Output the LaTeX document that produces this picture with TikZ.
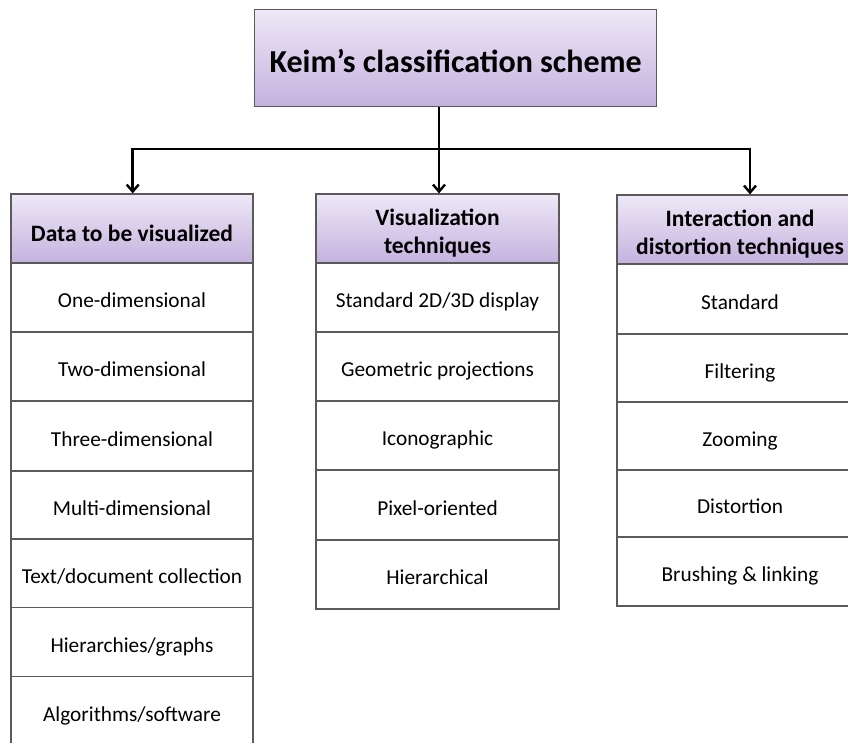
\documentclass[tikz,border=0pt]{standalone}
\usepackage{fontspec}
\setmainfont{Carlito}
\usetikzlibrary{arrows.meta}
\definecolor{boxline}{HTML}{5A5A5A}
\definecolor{gradtop}{HTML}{EEE8F7}
\definecolor{gradbot}{HTML}{C4B2DE}
\tikzset{
  headbox/.style={draw=boxline, line width=1.2pt, top color=gradtop, bottom color=gradbot, inner sep=0pt},
  headtext/.style={align=center, inner sep=0pt, yshift=-5pt, font=\fontsize{23.5}{28}\selectfont\bfseries},
  cellbox/.style={draw=boxline, line width=1.2pt, fill=white, inner sep=0pt, align=center, text height=23pt, text depth=3pt, font=\fontsize{21.3}{24}\selectfont},
  titlebox/.style={draw=boxline, line width=1.2pt, top color=gradtop, bottom color=gradbot, inner sep=0pt, text height=32pt, text depth=3pt, font=\fontsize{32}{36}\selectfont\bfseries},
  link/.style={line width=2.6pt, black},
  arr/.style={line width=2.6pt, black, -{Straight Barb[length=7pt,width=12pt,line width=2.4pt]}}
}
\begin{document}
\begin{tikzpicture}[x=1pt,y=-1pt]
\useasboundingbox (0,0) rectangle (848,743);
\clip (0,0) rectangle (848,743);
% top
\node[titlebox, minimum width=402pt, minimum height=96.5pt] (top) at (455.7,58) {Keim’s classification scheme};
% left column
\node[headbox, minimum width=242pt, minimum height=69pt, label={[headtext]center:Data to be visualized}] (h1) at (132,228.5) {};
\node[cellbox, minimum width=242pt, minimum height=69pt] (l1) at (132,297.5) {One-dimensional};
\node[cellbox, minimum width=242pt, minimum height=69pt] (l2) at (132,366.5) {Two-dimensional};
\node[cellbox, minimum width=242pt, minimum height=70pt] (l3) at (132,436) {Three-dimensional};
\node[cellbox, minimum width=242pt, minimum height=68pt] (l4) at (132,505) {Multi-dimensional};
\node[cellbox, minimum width=242pt, minimum height=68.5pt] (l5) at (132,573.25) {Text/document collection};
\node[cellbox, minimum width=242pt, minimum height=69pt] (l6) at (132,642) {Hierarchies/graphs};
\node[cellbox, minimum width=242pt, minimum height=69pt] (l7) at (132,711) {Algorithms/software};
% middle column
\node[headbox, minimum width=243pt, minimum height=69pt, label={[headtext]center:Visualization\\techniques}] (h2) at (437.5,228.5) {};
\node[cellbox, minimum width=243pt, minimum height=69pt] (m1) at (437.5,297.5) {Standard 2D/3D display};
\node[cellbox, minimum width=243pt, minimum height=69pt] (m2) at (437.5,366.5) {Geometric projections};
\node[cellbox, minimum width=243pt, minimum height=69pt] (m3) at (437.5,435.5) {Iconographic};
\node[cellbox, minimum width=243pt, minimum height=70pt] (m4) at (437.5,505) {Pixel-oriented};
\node[cellbox, minimum width=243pt, minimum height=69pt] (m5) at (437.5,574.5) {Hierarchical};
% right column
\node[headbox, minimum width=246pt, minimum height=69pt, label={[headtext]center:Interaction and\\distortion techniques}] (h3) at (740,229.5) {};
\node[cellbox, minimum width=246pt, minimum height=70pt] (r1) at (740,299) {Standard};
\node[cellbox, minimum width=246pt, minimum height=68pt] (r2) at (740,368) {Filtering};
\node[cellbox, minimum width=246pt, minimum height=68pt] (r3) at (740,436) {Zooming};
\node[cellbox, minimum width=246pt, minimum height=66.5pt] (r4) at (740,503.25) {Distortion};
\node[cellbox, minimum width=246pt, minimum height=69pt] (r5) at (740,571.5) {Brushing \& linking};
% connectors
\coordinate (hub) at (439,149);
\coordinate (a1) at (132.7,193.4);
\coordinate (a2) at (439,193.4);
\coordinate (a3) at (750,194.4);
\draw[link] (top.south -| hub) -- (hub);
\draw[arr] (hub) -- (a2);
\draw[arr] (hub) -| (a1);
\draw[arr] (hub) -| (a3);
\end{tikzpicture}
\end{document}
